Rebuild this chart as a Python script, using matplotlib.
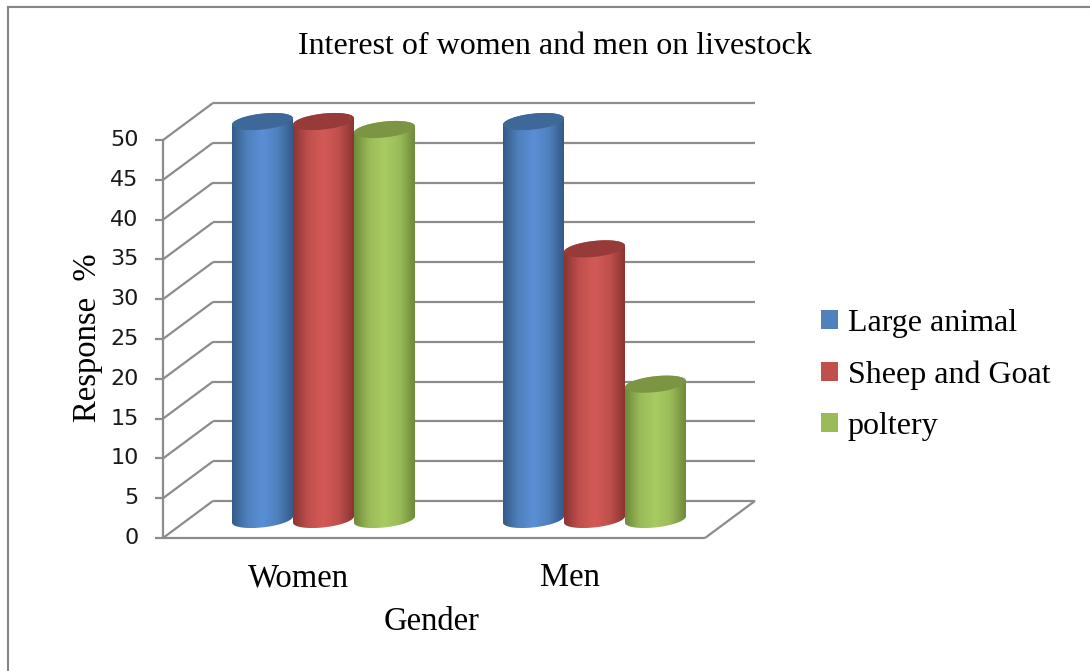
import numpy as np
import matplotlib
matplotlib.use("Agg")
import matplotlib.pyplot as plt
from matplotlib.path import Path
from matplotlib.patches import PathPatch, Patch
from matplotlib.lines import Line2D
from matplotlib.colors import LinearSegmentedColormap

# data
categories = ["Women", "Men"]
series = ["Large animal", "Sheep and Goat", "poltery"]
large_animal = [50, 50]
sheep_goat = [50, 34]
poltery = [49, 17]
yticks = list(range(0, 55, 5))

values = [large_animal, sheep_goat, poltery]
base_cols = ["#4F81BD", "#C0504D", "#9BBB59"]
dark_cols = ["#345A8A", "#8A3431", "#6D8A3A"]
light_cols = ["#5A8FD6", "#D35A56", "#A8CB62"]
cap_cols = ["#3D6898", "#963B38", "#7B9543"]

serif = "Liberation Serif"
W, H = 1090, 671
fig = plt.figure(figsize=(W / 100, H / 100), dpi=100)

# axes covers the front-plane plus depth offset (pixel box 163..755, 103..538)
x0, x1, ytop, ybot = 163, 755, 103, 538
ax = fig.add_axes([x0 / W, 1 - ybot / H, (x1 - x0) / W, (ybot - ytop) / H])
ncat = len(categories)
dx = ncat * 50 / 542          # depth offset in category units
dy = 37 / 7.94                # depth offset in value units
ax.set_xlim(0, ncat + dx)
ax.set_ylim(0, 50 + dy)
ax.axis("off")

grid = dict(color="#8C8C8C", lw=1.6, solid_capstyle="butt", zorder=1, clip_on=False)
for v in yticks:
    ax.plot([dx, ncat + dx], [v + dy, v + dy], **grid)
    ax.plot([0, dx], [v, v + dy], **grid)
    ax.plot([-0.03, 0], [v, v], **grid)
    ax.text(-0.09, v, str(v), ha="right", va="center", fontsize=16,
            family="DejaVu Sans", color="#1a1a1a")
ax.plot([0, 0], [0, 50], **grid)
ax.plot([0, ncat], [0, 0], **grid)
ax.plot([ncat, ncat + dx], [0, dy], **grid)

# cylinders
bw = 61 / 271
a = bw / 2
b = 1.0
shear = 0.4
t = np.linspace(0, 2 * np.pi, 120)
nser = len(series)
for ci in range(ncat):
    for si in range(nser):
        val = values[si][ci]
        cx = ci + 0.5 + (si - (nser - 1) / 2) * bw + dx / 2
        cy0 = dy / 2
        cy1 = dy / 2 + val
        # body outline
        tb = np.linspace(np.pi, 2 * np.pi, 60)
        bx = cx + a * np.cos(tb)
        byy = cy0 + b * np.sin(tb) + shear * np.cos(tb)
        tt = np.linspace(0, np.pi, 60)
        tx = cx + a * np.cos(tt)
        tyy = cy1 + b * np.sin(tt) + shear * np.cos(tt)
        verts = np.vstack([np.column_stack([bx, byy]), np.column_stack([tx, tyy])])
        verts = np.vstack([verts, verts[:1]])
        patch = PathPatch(Path(verts), facecolor="none", edgecolor="none", zorder=2)
        ax.add_patch(patch)
        cmap = LinearSegmentedColormap.from_list(
            "c", [dark_cols[si], base_cols[si], light_cols[si], base_cols[si], dark_cols[si]],
        )
        grad = np.linspace(0, 1, 200)[None, :]
        im = ax.imshow(grad, cmap=cmap, aspect="auto", zorder=2 + si * 0.01 + ci,
                       extent=[cx - a, cx + a, cy0 - b - 1, cy1 + b + 1],
                       interpolation="bilinear")
        im.set_clip_path(patch)
        # top cap
        ex = cx + a * np.cos(t)
        ey = cy1 + b * np.sin(t) + shear * np.cos(t)
        ax.fill(ex, ey, color=cap_cols[si], zorder=2.005 + si * 0.01 + ci, lw=0)

ax.set_xlim(0, ncat + dx)
ax.set_ylim(0, 50 + dy)

# category labels
for ci, c in enumerate(categories):
    ax.text(ci + 0.5, -5.0, c, ha="center", va="center", fontsize=23.5, family=serif)

fig.text(555 / W, 1 - 47 / H, "Interest of women and men on livestock",
         ha="center", va="center", fontsize=23, family=serif)
fig.text(432 / W, 1 - 622 / H, "Gender", ha="center", va="center", fontsize=23.5, family=serif)
fig.text(88 / W, 1 - 338 / H, "Response  %", ha="center", va="center", rotation=90,
         fontsize=23.5, family=serif)

handles = [Patch(facecolor=c, edgecolor="none") for c in base_cols]
fig.legend(handles, series, loc="center left", bbox_to_anchor=(792 / W, 1 - 375 / H),
           frameon=False, prop=dict(family=serif, size=23), handlelength=0.55,
           handleheight=0.55, handletextpad=0.3, labelspacing=0.7)

# outer border (top and left visible)
fig.add_artist(Line2D([8 / W, 8 / W], [0, 1 - 7 / H], transform=fig.transFigure,
                      color="#868686", lw=1.5))
fig.add_artist(Line2D([8 / W, 1], [1 - 7 / H, 1 - 7 / H], transform=fig.transFigure,
                      color="#868686", lw=1.5))

fig.savefig("out.png", dpi=100)
